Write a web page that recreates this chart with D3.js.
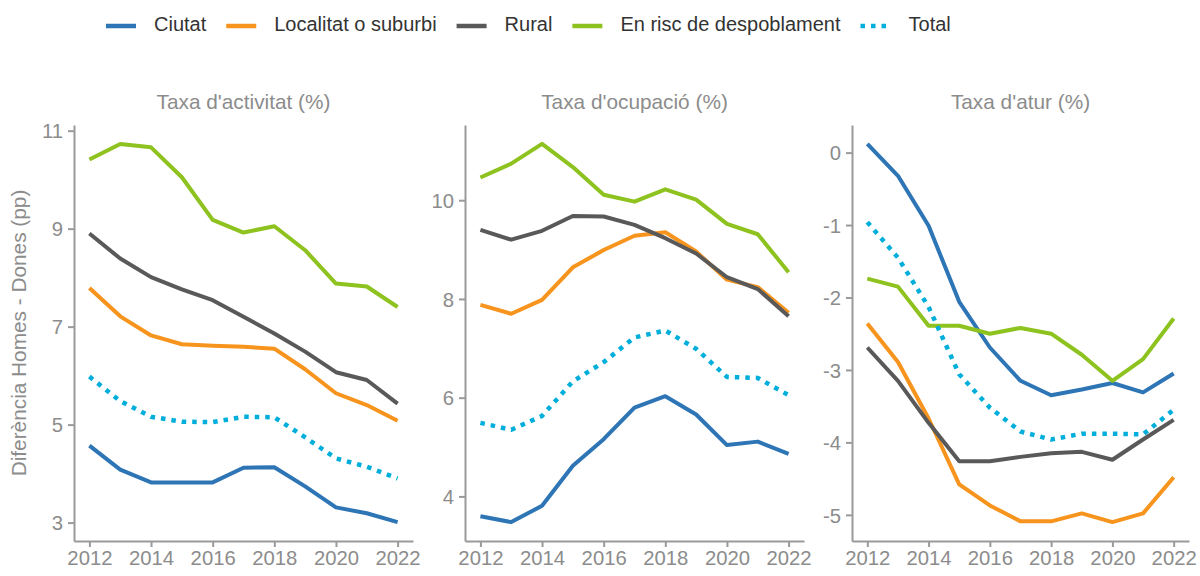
<!DOCTYPE html>
<html>
<head>
<meta charset="utf-8">
<script src="https://cdn.jsdelivr.net/npm/d3@7"></script>
<style>
  html, body { margin: 0; padding: 0; background: #fff; }
  svg { display: block; font-family: "Liberation Sans", Arial, sans-serif; }
</style>
</head>
<body>
<svg id="chart" width="1200" height="576"></svg>
<script>
// Years on the x axis
const years = [2012, 2013, 2014, 2015, 2016, 2017, 2018, 2019, 2020, 2021, 2022];

// Series names and colours
const seriesNames = ["Ciutat", "Localitat o suburbi", "Rural", "En risc de despoblament", "Total"];
const seriesColors = ["#2E75B6", "#F7941D", "#595959", "#8DC21F", "#00AEDB"];

// Panel titles and y tick values
const panelTitles = ["Taxa d'activitat (%)", "Taxa d'ocupació (%)", "Taxa d'atur (%)"];
const activitatTicks = [3, 5, 7, 9, 11];
const ocupacioTicks = [4, 6, 8, 10];
const aturTicks = [-5, -4, -3, -2, -1, 0];
const yAxisTitle = "Diferència Homes - Dones (pp)";

// Gap men - women (percentage points), activity rate
const activitatCiutat    = [4.57, 4.08, 3.82, 3.82, 3.82, 4.12, 4.13, 3.74, 3.31, 3.19, 3.01];
const activitatLocalitat = [7.79, 7.21, 6.82, 6.64, 6.61, 6.59, 6.55, 6.13, 5.64, 5.40, 5.08];
const activitatRural     = [8.90, 8.39, 8.01, 7.76, 7.54, 7.20, 6.86, 6.49, 6.07, 5.91, 5.43];
const activitatRisc      = [10.41, 10.73, 10.66, 10.05, 9.18, 8.92, 9.05, 8.56, 7.88, 7.82, 7.40];
const activitatTotal     = [5.98, 5.48, 5.16, 5.06, 5.05, 5.16, 5.15, 4.74, 4.31, 4.14, 3.90];

// Employment rate
const ocupacioCiutat    = [3.60, 3.48, 3.81, 4.62, 5.16, 5.80, 6.03, 5.66, 5.04, 5.11, 4.86];
const ocupacioLocalitat = [7.88, 7.70, 7.98, 8.64, 8.99, 9.28, 9.35, 8.96, 8.39, 8.24, 7.72];
const ocupacioRural     = [9.40, 9.20, 9.38, 9.68, 9.67, 9.50, 9.23, 8.92, 8.44, 8.20, 7.65];
const ocupacioRisc      = [10.46, 10.74, 11.14, 10.67, 10.11, 9.97, 10.22, 10.01, 9.52, 9.31, 8.54];
const ocupacioTotal     = [5.49, 5.35, 5.63, 6.33, 6.72, 7.22, 7.36, 6.99, 6.42, 6.40, 6.05];

// Unemployment rate
const aturCiutat    = [0.12, -0.32, -1.01, -2.06, -2.69, -3.15, -3.35, -3.27, -3.18, -3.31, -3.05];
const aturLocalitat = [-2.36, -2.89, -3.67, -4.58, -4.87, -5.09, -5.09, -4.98, -5.10, -4.98, -4.48];
const aturRural     = [-2.69, -3.15, -3.73, -4.26, -4.26, -4.20, -4.15, -4.13, -4.24, -3.96, -3.69];
const aturRisc      = [-1.74, -1.85, -2.39, -2.39, -2.50, -2.42, -2.50, -2.79, -3.15, -2.85, -2.29];
const aturTotal     = [-0.96, -1.45, -2.13, -3.06, -3.52, -3.85, -3.96, -3.88, -3.88, -3.89, -3.55];

const xTicks = [2012, 2014, 2016, 2018, 2020, 2022];

const panels = [
  { title: panelTitles[0], ticks: activitatTicks,
    series: [activitatCiutat, activitatLocalitat, activitatRural, activitatRisc, activitatTotal] },
  { title: panelTitles[1], ticks: ocupacioTicks,
    series: [ocupacioCiutat, ocupacioLocalitat, ocupacioRural, ocupacioRisc, ocupacioTotal] },
  { title: panelTitles[2], ticks: aturTicks,
    series: [aturCiutat, aturLocalitat, aturRural, aturRisc, aturTotal] }
];

// Layout
const svg = d3.select("#chart");
const plotTop = 125, plotBottom = 541;
const panelX = [[74, 413], [465, 804], [852, 1189]];
const axisColor = "#9a9a9a";
const tickTextColor = "#8c8c8c";
const tickFont = 20.3;
const titleFont = 20.8;

panels.forEach((p, i) => {
  const [x0, x1] = panelX[i];
  // 5% expansion on both axes
  const xPad = (years[years.length - 1] - years[0]) * 0.05;
  const x = d3.scaleLinear()
    .domain([years[0] - xPad, years[years.length - 1] + xPad])
    .range([x0, x1]);
  const all = p.series.flat();
  const lo = d3.min(all), hi = d3.max(all);
  const yPad = (hi - lo) * 0.05;
  const y = d3.scaleLinear().domain([lo - yPad, hi + yPad]).range([plotBottom, plotTop]);

  const g = svg.append("g");

  // x axis
  const xAxis = g.append("g")
    .attr("transform", `translate(0,${plotBottom})`)
    .call(d3.axisBottom(x).tickValues(xTicks).tickFormat(d => String(d))
      .tickSize(6).tickPadding(4).tickSizeOuter(0));
  // y axis (plain hyphen for negatives)
  const yAxis = g.append("g")
    .attr("transform", `translate(${x0},0)`)
    .call(d3.axisLeft(y).tickValues(p.ticks).tickFormat(d => String(d))
      .tickSize(6).tickPadding(5).tickSizeOuter(0));

  [xAxis, yAxis].forEach(a => {
    a.select(".domain").attr("stroke", axisColor).attr("stroke-width", 2);
    a.selectAll(".tick line").attr("stroke", axisColor).attr("stroke-width", 2);
    a.selectAll(".tick text")
      .attr("fill", tickTextColor)
      .style("font-size", tickFont + "px")
      .style("font-family", "'Liberation Sans', Arial, sans-serif");
  });
  yAxis.selectAll(".tick text").attr("dy", "0.36em");

  // title
  g.append("text")
    .attr("x", (x0 + x1) / 2)
    .attr("y", 103)
    .attr("text-anchor", "middle")
    .attr("dominant-baseline", "middle")
    .attr("fill", tickTextColor)
    .style("font-size", titleFont + "px")
    .text(p.title);

  // lines
  const line = d3.line().x((d, j) => x(years[j])).y(d => y(d));
  p.series.forEach((vals, k) => {
    const isTotal = seriesNames[k] === "Total";
    g.append("path")
      .datum(vals)
      .attr("fill", "none")
      .attr("stroke", seriesColors[k])
      .attr("stroke-width", isTotal ? 4.5 : 4)
      .attr("stroke-linejoin", "round")
      .attr("stroke-linecap", "butt")
      .attr("stroke-dasharray", isTotal ? "4.5,6" : null)
      .attr("d", line);
  });
});

// y axis title
svg.append("text")
  .attr("transform", `translate(20,${(plotTop + plotBottom) / 2}) rotate(-90)`)
  .attr("text-anchor", "middle")
  .attr("dominant-baseline", "middle")
  .attr("fill", tickTextColor)
  .style("font-size", titleFont + "px")
  .text(yAxisTitle);

// legend
const legend = svg.append("g");
let lx = 106;
const ly = 26;
seriesNames.forEach((name, k) => {
  const isTotal = name === "Total";
  legend.append("line")
    .attr("x1", lx).attr("x2", lx + 30)
    .attr("y1", ly).attr("y2", ly)
    .attr("stroke", seriesColors[k])
    .attr("stroke-width", 4.5)
    .attr("stroke-dasharray", isTotal ? "4.5,6" : null);
  const t = legend.append("text")
    .attr("x", lx + 48)
    .attr("y", ly)
    .attr("dominant-baseline", "middle")
    .attr("fill", "#333")
    .style("font-size", "20px")
    .text(name);
  lx += 48 + t.node().getComputedTextLength() + 20;
});
</script>
</body>
</html>
